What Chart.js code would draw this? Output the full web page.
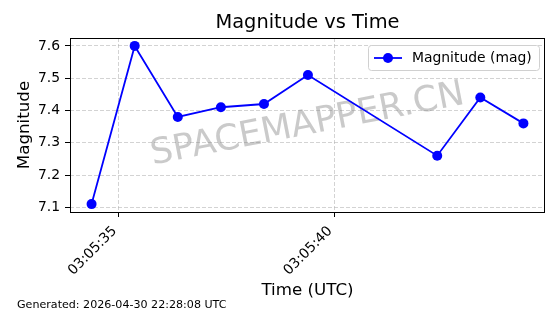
<!DOCTYPE html>
<html>
<head>
<meta charset="utf-8">
<script src="https://cdn.jsdelivr.net/npm/chart.js@4/dist/chart.umd.min.js"></script>
<style>
    html, body { margin: 0; padding: 0; background: #fff; }
    canvas { display: block; }
</style>
</head>
<body>
<canvas id="chartMag" width="560" height="314"></canvas>
<script>
// seconds after 03:05:00 UTC
const times = [34.37, 35.37, 36.37, 37.37, 38.37, 39.39, 42.39, 43.39, 44.39]
const magnitudes = [7.11, 7.60, 7.38, 7.41, 7.42, 7.51, 7.26, 7.44, 7.36]
const xTicks = [35, 40]
const yTicks = [7.1, 7.2, 7.3, 7.4, 7.5, 7.6]
const seriesLabel = 'Magnitude (mag)'
const generatedText = 'Generated: 2026-04-30 22:28:08 UTC'

const FONT = "'DejaVu Sans', sans-serif"

// matplotlib style 5% margins
function padRange(arr) {
    let lo = Math.min(...arr), hi = Math.max(...arr)
    let m = (hi - lo) * 0.05
    return [lo - m, hi + m]
}
const [xMin, xMax] = padRange(times)
const [yMin, yMax] = padRange(magnitudes)

const fmtTime = v => '03:05:' + String(Math.round(v)).padStart(2, '0')

const decor = {
    id: 'decor',
    beforeDatasetsDraw(chart) {
        const ctx = chart.ctx, a = chart.chartArea
        // watermark
        ctx.save()
        ctx.translate((a.left + a.right) / 2, (a.top + a.bottom) / 2)
        ctx.rotate(-11 * Math.PI / 180)
        ctx.font = '35.5px ' + FONT
        ctx.fillStyle = 'rgba(128,128,128,0.42)'
        ctx.textAlign = 'center'
        ctx.textBaseline = 'middle'
        ctx.fillText('SPACEMAPPER.CN', 0, 0)
        ctx.restore()
    },
    afterDraw(chart) {
        const ctx = chart.ctx, a = chart.chartArea
        ctx.save()
        // axes box
        ctx.strokeStyle = '#000'
        ctx.lineWidth = 1
        ctx.strokeRect(a.left + 0.5, a.top + 0.5, a.right - a.left - 1, a.bottom - a.top)

        // title
        ctx.fillStyle = '#000'
        ctx.font = '19.4px ' + FONT
        ctx.textAlign = 'center'
        ctx.textBaseline = 'middle'
        ctx.fillText('Magnitude vs Time', (a.left + a.right) / 2, 23)

        // footer
        ctx.font = '11.1px ' + FONT
        ctx.textAlign = 'left'
        ctx.fillText(generatedText, 17, 305)

        // legend (upper right, inside axes)
        let lx = 368, ly = 45, lw = 171, lh = 25
        ctx.beginPath()
        ctx.roundRect(lx + 0.5, ly + 0.5, lw, lh, 3)
        ctx.fillStyle = 'rgba(255,255,255,0.8)'
        ctx.fill()
        ctx.strokeStyle = '#d0d0d0'
        ctx.stroke()
        let cy = ly + lh / 2 + 0.5
        ctx.strokeStyle = 'blue'
        ctx.lineWidth = 1.8
        ctx.beginPath()
        ctx.moveTo(374, cy)
        ctx.lineTo(402, cy)
        ctx.stroke()
        ctx.fillStyle = 'blue'
        ctx.beginPath()
        ctx.arc(388, cy, 5, 0, Math.PI * 2)
        ctx.fill()
        ctx.fillStyle = '#000'
        ctx.font = '13.9px ' + FONT
        ctx.textBaseline = 'middle'
        ctx.fillText(seriesLabel, 412, cy)
        ctx.restore()
    }
}

const gridOpts = {
    color: 'rgba(176,176,176,0.7)',
    lineWidth: 0.8,
    tickColor: '#000',
    tickBorderDash: [],
    tickLength: 5,
    tickWidth: 1
}

new Chart(document.getElementById('chartMag'), {
    type: 'line',
    data: {
        datasets: [{
            label: seriesLabel,
            data: times.map((t, i) => ({ x: t, y: magnitudes[i] })),
            borderColor: 'blue',
            backgroundColor: 'blue',
            borderWidth: 1.8,
            pointRadius: 5,
            pointBorderWidth: 0,
            pointBackgroundColor: 'blue',
            tension: 0
        }]
    },
    options: {
        responsive: false,
        animation: false,
        layout: { padding: { top: 38, right: 15, left: 0, bottom: 0 } },
        plugins: {
            legend: { display: false },
            tooltip: { enabled: false },
            title: { display: false }
        },
        scales: {
            x: {
                type: 'linear',
                min: xMin,
                max: xMax,
                afterFit: s => { s.height = 102 },
                afterBuildTicks: s => { s.ticks = xTicks.map(v => ({ value: v })) },
                border: { display: false, dash: [4, 2] },
                grid: gridOpts,
                ticks: {
                    color: '#000',
                    font: { family: FONT, size: 13.9 },
                    minRotation: 45,
                    maxRotation: 45,
                    padding: 6,
                    labelOffset: -4,
                    callback: v => fmtTime(v)
                },
                title: {
                    display: true,
                    text: 'Time (UTC)',
                    color: '#000',
                    font: { family: FONT, size: 16.7 },
                    padding: { top: 0, bottom: 13 }
                }
            },
            y: {
                min: yMin,
                max: yMax,
                afterFit: s => { s.width = 70 },
                afterBuildTicks: s => { s.ticks = yTicks.map(v => ({ value: v })) },
                border: { display: false, dash: [4, 2] },
                grid: gridOpts,
                ticks: {
                    color: '#000',
                    font: { family: FONT, size: 13.9 },
                    padding: 5,
                    callback: v => v.toFixed(1)
                },
                title: {
                    display: true,
                    text: 'Magnitude',
                    color: '#000',
                    font: { family: FONT, size: 16.7 },
                    padding: { top: 15, bottom: 0 }
                }
            }
        }
    },
    plugins: [decor]
})
</script>
</body>
</html>
